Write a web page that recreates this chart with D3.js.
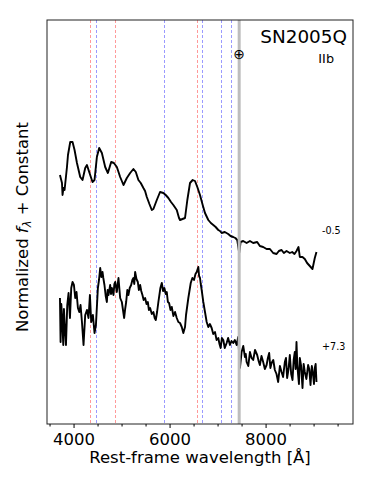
<!DOCTYPE html>
<html>
<head>
<meta charset="utf-8">
<script src="https://cdn.jsdelivr.net/npm/d3@7"></script>
<style>
  body { margin: 0; background: #fff; }
  text { font-family: "DejaVu Sans", sans-serif; }
</style>
</head>
<body>
<script>
// spectrum at -0.5 d : [rest wavelength (A), normalized flux + constant]
const specEarly = [
  [3717, 2.49], [3759, 2.41], [3771, 2.29], [3790, 2.36], [3813, 2.34], [3863, 2.57], [3884, 2.69], [3931, 2.82], [3979, 2.82], [4021, 2.74],
  [4071, 2.61], [4139, 2.47], [4187, 2.44], [4243, 2.56], [4279, 2.59], [4326, 2.52], [4395, 2.42], [4437, 2.44], [4486, 2.67], [4534, 2.76],
  [4590, 2.71], [4659, 2.57], [4715, 2.51], [4784, 2.62], [4840, 2.61], [4902, 2.57], [4971, 2.47], [5040, 2.39], [5110, 2.46], [5179, 2.51],
  [5247, 2.55], [5297, 2.52], [5351, 2.44], [5400, 2.41], [5455, 2.36], [5490, 2.33], [5526, 2.27], [5580, 2.20], [5630, 2.14], [5663, 2.15],
  [5734, 2.24], [5802, 2.32], [5871, 2.31], [5920, 2.29], [5975, 2.26], [6030, 2.22], [6079, 2.19], [6150, 2.14], [6197, 2.06], [6218, 2.04],
  [6270, 2.05], [6322, 2.06], [6370, 2.24], [6426, 2.41], [6482, 2.44], [6530, 2.43], [6578, 2.37], [6634, 2.29], [6690, 2.19], [6738, 2.11],
  [6807, 2.04], [6860, 2.01], [6911, 1.99], [6960, 1.97], [7015, 1.94], [7050, 1.93], [7085, 1.91], [7150, 1.92], [7222, 1.90], [7270, 1.88],
  [7326, 1.87], [7370, 1.86], [7410, 1.84], [7451, 1.71], [7480, 1.82], [7534, 1.83], [7605, 1.81], [7674, 1.83], [7742, 1.81], [7825, 1.82],
  [7881, 1.78], [7950, 1.77], [8021, 1.75], [8090, 1.75], [8158, 1.71], [8229, 1.70], [8277, 1.73], [8333, 1.74], [8381, 1.71], [8437, 1.73],
  [8505, 1.71], [8554, 1.72], [8602, 1.70], [8644, 1.73], [8686, 1.77], [8713, 1.67], [8769, 1.67], [8817, 1.65], [8865, 1.61], [8921, 1.58],
  [8977, 1.55], [9003, 1.61], [9025, 1.66], [9060, 1.72]
]

// spectrum at +7.3 d : [rest wavelength (A), normalized flux + constant]
const specLate = [
  [3717, 1.26], [3730, 0.82], [3745, 1.20], [3759, 1.09], [3786, 0.79], [3800, 1.15], [3813, 1.02], [3842, 0.79], [3869, 1.19], [3896, 1.31],
  [3925, 1.06], [3952, 1.36], [3979, 1.42], [4008, 1.39], [4035, 1.26], [4062, 1.32], [4091, 1.16], [4119, 1.12], [4146, 1.19], [4175, 1.02],
  [4208, 0.79], [4243, 1.09], [4279, 1.14], [4312, 1.06], [4341, 1.29], [4368, 1.02], [4403, 1.09], [4437, 0.91], [4466, 0.99], [4507, 1.36],
  [4530, 1.44], [4555, 1.56], [4580, 1.47], [4603, 1.52], [4620, 1.46], [4644, 1.39], [4670, 1.28], [4694, 1.22], [4710, 1.34], [4728, 1.29],
  [4763, 1.39], [4780, 1.30], [4798, 1.36], [4832, 1.29], [4850, 1.40], [4867, 1.42], [4902, 1.32], [4920, 1.40], [4936, 1.46], [4971, 1.26],
  [5006, 1.22], [5054, 1.06], [5075, 1.15], [5096, 1.22], [5120, 1.34], [5143, 1.29], [5170, 1.36], [5200, 1.39], [5225, 1.44], [5247, 1.46],
  [5265, 1.40], [5283, 1.52], [5310, 1.45], [5339, 1.42], [5360, 1.34], [5387, 1.39], [5410, 1.33], [5435, 1.29], [5460, 1.24], [5491, 1.26],
  [5520, 1.20], [5547, 1.22], [5570, 1.14], [5595, 1.16], [5630, 1.10], [5663, 1.12], [5690, 1.06], [5713, 1.04], [5740, 1.12], [5767, 1.22],
  [5809, 1.36], [5838, 1.41], [5865, 1.33], [5892, 1.36], [5920, 1.30], [5942, 1.32], [5965, 1.22], [5990, 1.21], [6020, 1.14], [6046, 1.17],
  [6080, 1.08], [6114, 1.12], [6150, 1.06], [6183, 1.02], [6218, 1.01], [6254, 0.97], [6287, 0.91], [6322, 0.97], [6343, 1.09], [6391, 1.26],
  [6441, 1.41], [6475, 1.46], [6509, 1.44], [6540, 1.50], [6565, 1.52], [6599, 1.57], [6615, 1.48], [6634, 1.46], [6650, 1.40], [6669, 1.34],
  [6703, 1.22], [6738, 1.12], [6773, 1.02], [6807, 0.97], [6840, 1.00], [6877, 0.96], [6910, 0.90], [6946, 0.92], [6980, 0.84], [7015, 0.86],
  [7040, 0.80], [7064, 0.76], [7090, 0.86], [7119, 0.84], [7150, 0.76], [7189, 0.81], [7220, 0.86], [7258, 0.79], [7290, 0.83], [7326, 0.81],
  [7360, 0.84], [7397, 0.79], [7430, 0.87], [7466, 0.56], [7501, 0.72], [7535, 0.78], [7570, 0.67], [7588, 0.70], [7605, 0.62], [7640, 0.58],
  [7674, 0.72], [7708, 0.66], [7742, 0.64], [7780, 0.74], [7825, 0.69], [7855, 0.63], [7881, 0.59], [7915, 0.68], [7950, 0.62], [7985, 0.55],
  [8021, 0.59], [8048, 0.66], [8075, 0.71], [8100, 0.56], [8125, 0.61], [8160, 0.64], [8193, 0.54], [8228, 0.50], [8262, 0.42], [8298, 0.58],
  [8333, 0.52], [8365, 0.47], [8401, 0.62], [8425, 0.66], [8449, 0.46], [8478, 0.55], [8505, 0.69], [8533, 0.50], [8561, 0.44], [8585, 0.64],
  [8609, 0.72], [8626, 0.55], [8644, 0.82], [8660, 0.60], [8678, 0.49], [8695, 0.40], [8713, 0.66], [8740, 0.58], [8769, 0.36], [8793, 0.60],
  [8817, 0.52], [8850, 0.45], [8886, 0.59], [8910, 0.55], [8936, 0.39], [8963, 0.58], [8990, 0.49], [9008, 0.40], [9025, 0.56], [9043, 0.60],
  [9060, 0.42]
]

const phaseLabels = ["-0.5", "+7.3"]
const phaseLabelFlux = [1.90, 0.74]

// line identifications
const hLines = [4340, 4861, 6563]
const heLines = [4471, 5876, 6678, 7065, 7281]
const telluric = 7450

const majorTicks = [4000, 6000, 8000]
const minorTicks = d3.range(3500, 9501, 500)

const w = 374
const h = 486
const margin = { left: 47, right: 21, top: 20, bottom: 62 }

const svg = d3.select('body').append('svg')
  .attr('width', w)
  .attr('height', h)

const x = d3.scaleLinear()
  .domain([3447, 9821])
  .range([margin.left, w - margin.right])

const y = d3.scaleLinear()
  .domain([0, 4.04])
  .range([h - margin.bottom, margin.top])

const plotTop = margin.top
const plotBottom = h - margin.bottom
const snap = v => Math.round(v) + 0.5

// dashed line markers
svg.selectAll('.hline')
  .data(hLines)
  .enter()
  .append('line')
  .attr('class', 'hline')
  .attr('x1', d => snap(x(d))).attr('x2', d => snap(x(d)))
  .attr('y1', plotTop).attr('y2', plotBottom)
  .attr('stroke', '#ff9a9a')
  .attr('stroke-width', 1)
  .attr('stroke-dasharray', '3,2')

svg.selectAll('.heline')
  .data(heLines)
  .enter()
  .append('line')
  .attr('class', 'heline')
  .attr('x1', d => snap(x(d))).attr('x2', d => snap(x(d)))
  .attr('y1', plotTop).attr('y2', plotBottom)
  .attr('stroke', '#9a9aff')
  .attr('stroke-width', 1)
  .attr('stroke-dasharray', '3,2')

// spectra
const line = d3.line().x(d => x(d[0])).y(d => y(d[1]))

svg.selectAll('.spec')
  .data([specEarly, specLate])
  .enter()
  .append('path')
  .attr('class', 'spec')
  .attr('d', line)
  .attr('fill', 'none')
  .attr('stroke', '#000')
  .attr('stroke-width', 1.9)
  .attr('stroke-linejoin', 'round')

// telluric band
svg.append('line')
  .attr('x1', x(telluric)).attr('x2', x(telluric))
  .attr('y1', plotTop).attr('y2', plotBottom)
  .attr('stroke', '#bdbdbd')
  .attr('stroke-width', 3)

svg.append('text')
  .attr('x', x(telluric))
  .attr('y', 59)
  .attr('text-anchor', 'middle')
  .style('font-size', '14px')
  .text('\u2295')

// phase labels
svg.selectAll('.phase')
  .data(phaseLabels)
  .enter()
  .append('text')
  .attr('class', 'phase')
  .attr('x', 322)
  .attr('y', (d, i) => y(phaseLabelFlux[i]))
  .style('font-size', '9.6px')
  .text(d => d)

// frame
svg.append('rect')
  .attr('x', margin.left)
  .attr('y', plotTop)
  .attr('width', w - margin.left - margin.right)
  .attr('height', plotBottom - plotTop)
  .attr('fill', 'none')
  .attr('stroke', '#222')
  .attr('stroke-width', 1)

// x axis
const xAxis = svg.append('g')
  .attr('transform', `translate(0,${plotBottom})`)
  .call(d3.axisBottom(x).tickValues(majorTicks).tickSize(4).tickPadding(5).tickFormat(d3.format('d')))
xAxis.select('.domain').remove()
xAxis.selectAll('text').style('font-size', '16.5px').style('font-family', '"DejaVu Sans", sans-serif')

const xMinor = svg.append('g')
  .attr('transform', `translate(0,${plotBottom})`)
  .call(d3.axisBottom(x).tickValues(minorTicks.filter(d => majorTicks.indexOf(d) < 0)).tickSize(2.5).tickFormat(''))
xMinor.select('.domain').remove()

svg.append('text')
  .attr('x', (margin.left + w - margin.right) / 2)
  .attr('y', 463)
  .attr('text-anchor', 'middle')
  .style('font-size', '16.5px')
  .text('Rest-frame wavelength [Å]')

// y label
const yLabel = svg.append('text')
  .attr('transform', 'translate(28,227) rotate(-90)')
  .attr('text-anchor', 'middle')
  .style('font-size', '16.5px')
yLabel.append('tspan').text('Normalized ')
yLabel.append('tspan').style('font-style', 'italic').text('f')
yLabel.append('tspan').attr('baseline-shift', '-25%').style('font-size', '11.5px').style('font-style', 'italic').text('λ')
yLabel.append('tspan').text(' + Constant')

// title
svg.append('text')
  .attr('x', 347)
  .attr('y', 42.7)
  .attr('text-anchor', 'end')
  .style('font-size', '18.4px')
  .text('SN2005Q')

svg.append('text')
  .attr('x', 334)
  .attr('y', 63.3)
  .attr('text-anchor', 'end')
  .style('font-size', '12.8px')
  .text('IIb')
</script>
</body>
</html>
